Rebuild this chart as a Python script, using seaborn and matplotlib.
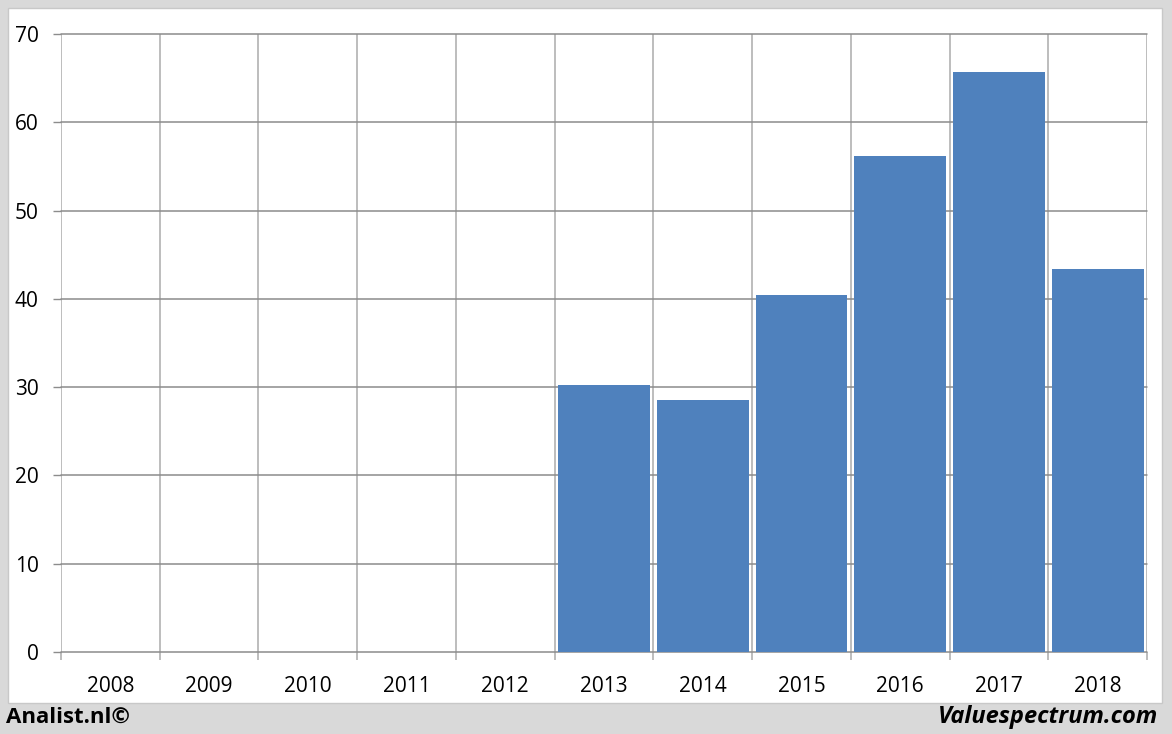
import numpy as np
import pandas as pd
import matplotlib
matplotlib.use("Agg")
import matplotlib.pyplot as plt
import seaborn as sns
from matplotlib.patches import Rectangle

years = ["2008", "2009", "2010", "2011", "2012", "2013", "2014", "2015", "2016", "2017", "2018"]
values = [np.nan, np.nan, np.nan, np.nan, np.nan, 30.2, 28.5, 40.4, 56.2, 65.7, 43.4]
yticks = [0, 10, 20, 30, 40, 50, 60, 70]

sns.set_theme(style="white")
plt.rcParams["font.family"] = ["Open Sans", "DejaVu Sans"]

W, H = 1172, 734
fig = plt.figure(figsize=(W / 100, H / 100), dpi=100)
fig.patch.set_facecolor("#d9d9d9")
fig.patches.append(Rectangle((8 / W, 1 - 703 / H), (1162 - 8) / W, (703 - 8) / H,
                             transform=fig.transFigure, facecolor="white",
                             edgecolor="#c8c8c8", lw=1, zorder=-10))

ax = fig.add_axes([61 / W, 1 - 652 / H, (1147 - 61) / W, (652 - 34) / H])
ax.set_zorder(5)
ax.set_facecolor("none")

df = pd.DataFrame({"year": years, "value": values})
sns.barplot(data=df, x="year", y="value", order=years, color="#4f81bd",
            width=0.93, saturation=1, edgecolor="none", ax=ax, zorder=3)

ax.set_xlim(-0.5, len(years) - 0.5)
ax.set_ylim(0, 70)
ax.set_yticks(yticks)
ax.set_xticks(range(len(years)))
ax.set_xticklabels(years)
ax.set_xticks(np.arange(-0.5, len(years), 1.0), minor=True)
ax.set_xlabel("")
ax.set_ylabel("")

ax.grid(False)
for y in yticks:
    ax.axhline(y, color="#8c8c8c", lw=1.1, zorder=1, clip_on=False)
ax.grid(True, which="minor", axis="x", color="#bdbdbd", lw=1.4, zorder=1)
for s in ax.spines.values():
    s.set_visible(False)

ax.tick_params(axis="y", which="major", length=6, width=1, color="#8c8c8c",
               left=True, labelsize=15, pad=10, labelcolor="black")
ax.tick_params(axis="x", which="major", length=0, labelsize=15, pad=17, labelcolor="black")
ax.tick_params(axis="x", which="minor", length=6, width=1.4, color="#bdbdbd",
               bottom=True, direction="out")

fig.text(6 / W, 1 - 717 / H, "Analist.nl©", fontsize=16, fontweight="bold",
         ha="left", va="center", color="black")
fig.text(1158 / W, 1 - 717 / H, "Valuespectrum.com", fontsize=17, fontweight="bold",
         fontstyle="italic", ha="right", va="center", color="black")

fig.savefig("out.png", dpi=100, facecolor=fig.get_facecolor())
